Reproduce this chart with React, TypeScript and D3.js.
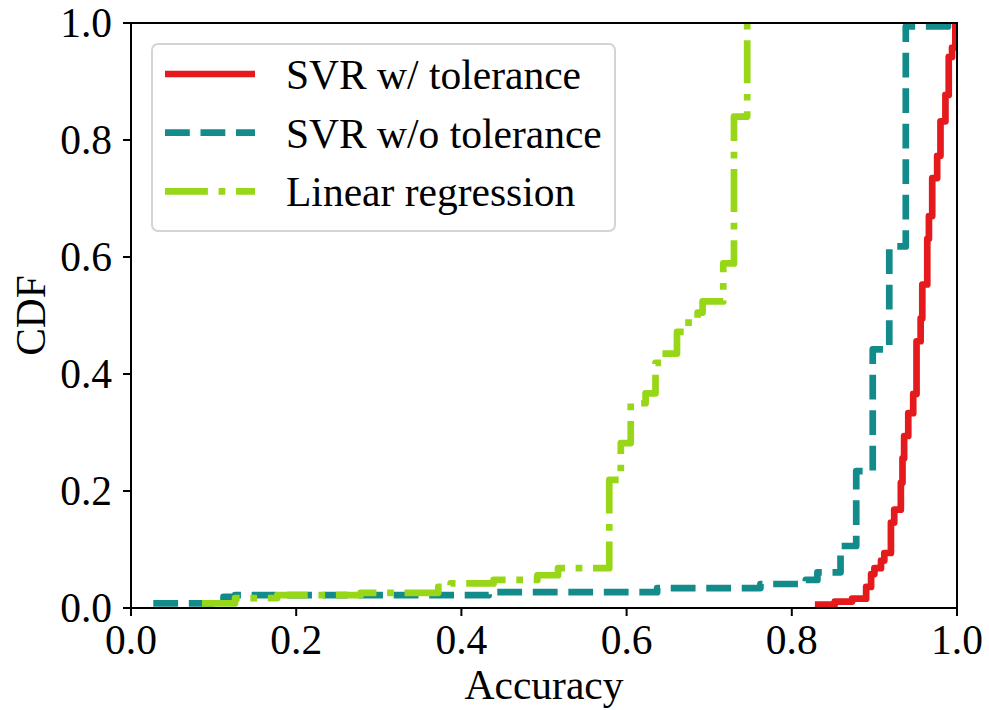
import React from 'react';
import * as d3 from 'd3';

// step CDF points: accuracy where the CDF jumps, and the level it jumps to
const svrTolAcc = [0.832, 0.852, 0.873, 0.890, 0.896, 0.900, 0.908, 0.912, 0.920, 0.924, 0.932, 0.934, 0.936, 0.941, 0.947, 0.951, 0.956, 0.958, 0.964, 0.966, 0.970, 0.976, 0.980, 0.986, 0.990, 0.994, 0.998];
const svrTolCdf = [0.006, 0.011, 0.016, 0.036, 0.058, 0.068, 0.081, 0.094, 0.146, 0.168, 0.214, 0.256, 0.294, 0.333, 0.366, 0.456, 0.495, 0.553, 0.631, 0.670, 0.735, 0.773, 0.832, 0.877, 0.942, 0.958, 1.0];

const svrNoTolAcc = [0.027, 0.112, 0.126, 0.433, 0.637, 0.762, 0.817, 0.831, 0.859, 0.878, 0.898, 0.918, 0.938, 0.989];
const svrNoTolCdf = [0.008, 0.019, 0.022, 0.027, 0.034, 0.041, 0.048, 0.061, 0.106, 0.234, 0.442, 0.618, 0.994, 1.0];

const linRegAcc = [0.086, 0.126, 0.177, 0.278, 0.372, 0.387, 0.439, 0.492, 0.517, 0.579, 0.593, 0.605, 0.623, 0.635, 0.643, 0.661, 0.675, 0.686, 0.692, 0.717, 0.730, 0.746];
const linRegCdf = [0.008, 0.017, 0.022, 0.026, 0.036, 0.042, 0.048, 0.056, 0.068, 0.219, 0.282, 0.350, 0.367, 0.419, 0.435, 0.472, 0.496, 0.505, 0.524, 0.589, 0.840, 1.0];

const seriesNames = ['SVR w/ tolerance', 'SVR w/o tolerance', 'Linear regression'];
const xTicks = [0, 0.2, 0.4, 0.6, 0.8, 1.0];
const yTicks = [0, 0.2, 0.4, 0.6, 0.8, 1.0];

const W = 989;
const H = 710;
const margin = { top: 23, right: 32, bottom: 102, left: 131 };
const FONT = '"Liberation Serif", "Times New Roman", serif';
const FS = 41.5;

export default function App() {
  const width = W - margin.left - margin.right;
  const height = H - margin.top - margin.bottom;

  const x = d3.scaleLinear().domain([0, 1]).range([0, width]);
  const y = d3.scaleLinear().domain([0, 1]).range([height, 0]);

  const line = d3.line<[number, number]>()
    .x(d => x(d[0]))
    .y(d => y(d[1]))
    .curve(d3.curveStepAfter);

  const lw = 6.7;
  const series = [
    { name: seriesNames[0], acc: svrTolAcc, cdf: svrTolCdf, color: '#e41a1c', dash: undefined },
    { name: seriesNames[1], acc: svrNoTolAcc, cdf: svrNoTolCdf, color: '#128b8a', dash: `${3.7 * lw},${1.6 * lw}` },
    { name: seriesNames[2], acc: linRegAcc, cdf: linRegCdf, color: '#97d717', dash: `${6.4 * lw},${1.6 * lw},${1 * lw},${1.6 * lw}` },
  ];

  const fmt = d3.format('.1f');

  return (
    <svg width={W} height={H} style={{ display: 'block', position: 'absolute', left: 0, top: 0 }}>
      <rect width={W} height={H} fill="white" />
      <defs>
        <clipPath id="plot-clip">
          <rect x={0} y={0} width={width} height={height} />
        </clipPath>
      </defs>
      <g transform={`translate(${margin.left},${margin.top})`}>
        <g clipPath="url(#plot-clip)">
          {series.map(s => (
            <path
              key={s.name}
              d={line(s.acc.map((a, i) => [a, s.cdf[i]] as [number, number])) || ''}
              fill="none"
              stroke={s.color}
              strokeWidth={lw}
              strokeDasharray={s.dash}
              strokeLinejoin="round"
              strokeLinecap={s.dash ? 'butt' : 'square'}
            />
          ))}
        </g>

        {/* frame */}
        <rect x={0} y={0} width={width} height={height} fill="none" stroke="black" strokeWidth={2} />

        {/* x axis */}
        {xTicks.map(t => (
          <g key={`x${t}`} transform={`translate(${x(t)},${height})`}>
            <line y1={0} y2={8} stroke="black" strokeWidth={2} />
            <text y={46} textAnchor="middle" fontFamily={FONT} fontSize={FS} fill="black">{fmt(t)}</text>
          </g>
        ))}

        {/* y axis */}
        {yTicks.map(t => (
          <g key={`y${t}`} transform={`translate(0,${y(t)})`}>
            <line x1={0} x2={-8} stroke="black" strokeWidth={2} />
            <text x={-19} y={14} textAnchor="end" fontFamily={FONT} fontSize={FS} fill="black">{fmt(t)}</text>
          </g>
        ))}

        <text x={width / 2} y={height + 91} textAnchor="middle" fontFamily={FONT} fontSize={FS} fill="black">Accuracy</text>
        <text transform={`translate(${-86},${height / 2}) rotate(-90)`} textAnchor="middle" fontFamily={FONT} fontSize={FS} fill="black">CDF</text>

        {/* legend */}
        <g transform="translate(21,21)">
          <rect x={0} y={0} width={463} height={187} rx={6} fill="white" fillOpacity={0.8} stroke="#d4d4d4" strokeWidth={2} />
          {series.map((s, i) => (
            <g key={`leg${i}`} transform={`translate(0,${30 + i * 58.7})`}>
              <line x1={13} x2={103} y1={0} y2={0} stroke={s.color} strokeWidth={lw} strokeDasharray={s.dash} strokeLinecap="butt" />
              <text x={134} y={15} fontFamily={FONT} fontSize={FS} fill="black">{s.name}</text>
            </g>
          ))}
        </g>
      </g>
    </svg>
  );
}
